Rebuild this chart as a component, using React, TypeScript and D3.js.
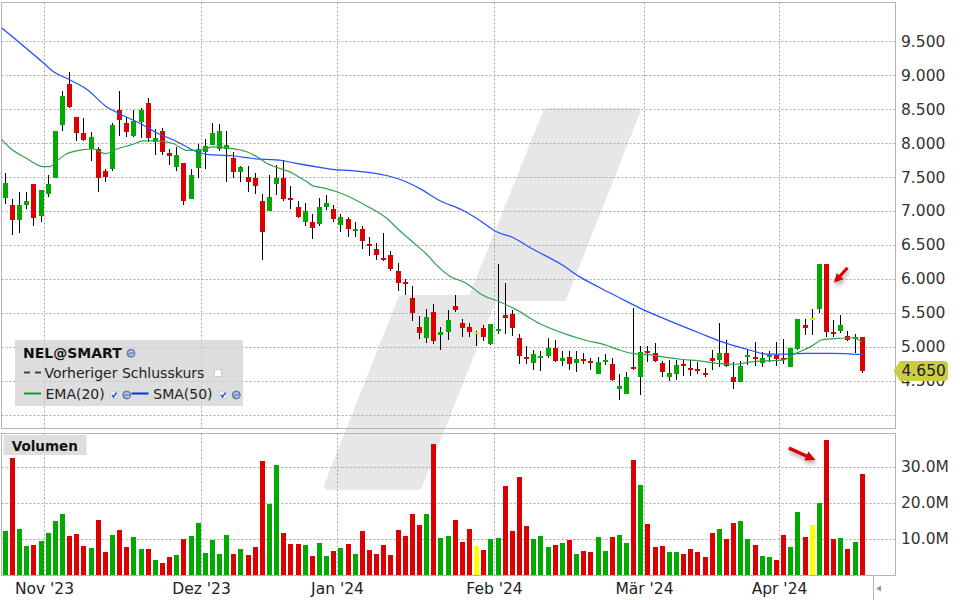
import { useEffect, useRef } from 'react';
import * as d3 from 'd3';

// daily candles, 24 Oct 2023 .. 17 Apr 2024
const opens = [
  7.20, 7.09, 6.87, 7.09, 7.40, 6.93, 7.25, 7.49, 8.27, 8.87, 8.39, 8.15, 7.92, 7.92, 7.60, 7.63, 8.50, 8.31, 8.11, 8.32,
  8.60, 8.02, 8.18, 7.86, 7.65, 7.71, 7.19, 7.64, 7.87, 7.98, 7.92, 7.92, 7.78, 7.58, 7.51, 7.49, 7.15, 7.00, 7.40, 7.49,
  7.20, 7.07, 6.85, 6.85, 6.81, 7.06, 7.03, 6.80, 6.89, 6.71, 6.74, 6.52, 6.44, 6.31, 6.36, 6.12, 5.96, 5.72, 5.30, 5.13,
  5.52, 5.18, 5.22, 5.61, 5.35, 5.30, 5.23, 5.28, 5.05, 5.24, 5.47, 5.49, 5.13, 4.85, 4.77, 4.84, 4.87, 4.99, 4.80, 4.85,
  4.77, 4.82, 4.80, 4.60, 4.78, 4.75, 4.39, 4.31, 4.71, 4.56, 4.94, 4.92, 4.77, 4.56, 4.61, 4.75, 4.70, 4.68, 4.62, 4.84,
  4.81, 4.92, 4.56, 4.49, 4.86, 4.86, 4.77, 4.86, 4.89, 4.84, 4.71, 4.97, 5.33, 5.43, 5.56, 6.23, 5.23, 5.24, 5.17, 5.12,
  5.15,
];
const highs = [
  7.56, 7.19, 7.28, 7.29, 7.40, 7.31, 7.53, 8.18, 8.77, 9.06, 8.39, 8.37, 8.17, 7.95, 7.62, 8.31, 8.77, 8.39, 8.49, 8.52,
  8.67, 8.21, 8.23, 7.92, 7.95, 7.72, 7.63, 8.00, 8.07, 8.30, 8.29, 8.19, 7.87, 7.67, 7.67, 7.56, 7.26, 7.53, 7.68, 7.76,
  7.37, 7.15, 7.12, 6.96, 7.20, 7.24, 7.09, 6.96, 6.92, 6.84, 6.78, 6.62, 6.53, 6.68, 6.42, 6.24, 6.01, 5.90, 5.46, 5.56,
  5.63, 5.30, 5.55, 5.77, 5.41, 5.35, 5.24, 5.33, 5.34, 6.22, 5.94, 5.55, 5.19, 5.02, 4.96, 4.94, 5.13, 5.10, 4.94, 4.94,
  4.94, 4.91, 4.84, 4.85, 4.90, 4.84, 4.60, 4.63, 5.58, 5.02, 5.02, 5.06, 4.80, 4.81, 4.81, 4.83, 4.81, 4.78, 4.69, 4.96,
  5.35, 5.11, 4.78, 4.80, 4.96, 5.08, 4.93, 4.95, 5.08, 5.12, 4.99, 5.41, 5.41, 5.57, 6.23, 6.23, 5.40, 5.47, 5.24, 5.19,
  5.15,
];
const lows = [
  7.11, 6.66, 6.68, 7.03, 6.79, 6.85, 7.21, 7.49, 8.18, 8.52, 8.04, 8.04, 7.74, 7.28, 7.43, 7.60, 8.11, 8.09, 8.09, 8.08,
  8.02, 7.83, 7.83, 7.68, 7.59, 7.10, 7.19, 7.49, 7.62, 7.98, 7.89, 7.44, 7.50, 7.44, 7.29, 7.26, 6.28, 7.00, 7.24, 7.15,
  7.04, 6.90, 6.78, 6.60, 6.78, 7.02, 6.84, 6.70, 6.62, 6.62, 6.44, 6.34, 6.28, 6.27, 6.12, 5.83, 5.77, 5.38, 5.12, 5.06,
  5.05, 4.96, 5.10, 5.52, 5.15, 5.15, 5.02, 5.09, 5.03, 5.19, 5.19, 5.16, 4.75, 4.75, 4.66, 4.65, 4.84, 4.78, 4.72, 4.66,
  4.63, 4.75, 4.66, 4.60, 4.74, 4.50, 4.23, 4.31, 4.66, 4.30, 4.79, 4.78, 4.56, 4.50, 4.52, 4.57, 4.57, 4.60, 4.56, 4.67,
  4.71, 4.71, 4.39, 4.49, 4.74, 4.72, 4.71, 4.78, 4.72, 4.75, 4.71, 4.96, 5.18, 5.18, 5.50, 5.15, 5.15, 5.21, 5.09, 4.91,
  4.62,
];
const closes = [
  7.42, 6.87, 7.09, 7.15, 6.90, 7.31, 7.40, 8.18, 8.70, 8.54, 8.16, 8.05, 8.10, 7.49, 7.51, 8.27, 8.35, 8.17, 8.33, 8.49,
  8.08, 8.08, 7.87, 7.81, 7.83, 7.15, 7.54, 7.92, 7.96, 8.15, 8.19, 7.98, 7.58, 7.65, 7.44, 7.37, 6.69, 7.22, 7.49, 7.18,
  7.17, 6.92, 7.00, 6.76, 7.07, 7.12, 6.89, 6.92, 6.74, 6.74, 6.56, 6.49, 6.36, 6.28, 6.15, 5.94, 5.93, 5.50, 5.21, 5.44,
  5.09, 5.22, 5.40, 5.55, 5.28, 5.22, 5.23, 5.15, 5.34, 5.27, 5.43, 5.28, 4.87, 4.82, 4.90, 4.87, 4.99, 4.80, 4.84, 4.75,
  4.82, 4.80, 4.77, 4.78, 4.81, 4.52, 4.43, 4.56, 4.68, 4.93, 4.92, 4.80, 4.63, 4.62, 4.74, 4.73, 4.67, 4.66, 4.59, 4.80,
  4.92, 4.73, 4.49, 4.73, 4.89, 4.83, 4.84, 4.89, 4.83, 4.82, 4.99, 5.41, 5.29, 5.43, 6.23, 5.23, 5.20, 5.33, 5.10, 5.15,
  4.65,
];
// volume in millions
const volumes = [
  12.3, 32.6, 12.9, 8.1, 8.4, 9.5, 11.8, 15.1, 17.0, 10.9, 11.5, 8.1, 7.6, 15.4, 6.5, 11.2, 12.6, 7.9, 10.6, 7.3,
  7.3, 4.3, 3.4, 5.1, 5.6, 10.1, 10.9, 14.5, 6.2, 9.8, 5.9, 11.2, 5.9, 7.3, 5.6, 7.9, 31.8, 19.8, 30.6, 11.8,
  8.7, 8.7, 8.4, 5.4, 9.0, 5.4, 6.8, 7.6, 8.7, 5.9, 12.3, 7.0, 5.9, 8.4, 5.6, 12.6, 10.9, 17.0, 14.0, 17.0,
  36.5, 10.4, 10.9, 15.4, 9.3, 12.9, 8.1, 7.0, 10.1, 10.4, 24.8, 12.3, 27.3, 13.7, 10.1, 10.9, 7.9, 8.4, 9.0, 9.8,
  5.9, 6.8, 6.5, 10.6, 6.8, 10.6, 11.2, 9.0, 32.0, 25.1, 14.3, 7.9, 8.1, 6.5, 6.5, 5.9, 7.3, 6.5, 5.1, 11.8,
  12.9, 10.1, 14.5, 15.1, 10.1, 8.4, 5.4, 5.1, 4.3, 11.2, 7.9, 17.6, 10.6, 14.0, 20.1, 37.6, 10.1, 10.4, 7.3, 9.3,
  28.1,
];

// indicator lines: [bar index, value]
const emaPoints: [number, number][] = [
  [-0.7, 8.08], [0.7, 7.93], [3, 7.78], [5.3, 7.66], [6.2, 7.66], [7.4, 7.76], [8.6, 7.85], [10.9, 7.91], [12.3, 7.92],
  [14, 7.85], [15.6, 7.92], [17.9, 7.99], [19.3, 8.04], [21.2, 8.04], [23.5, 8.0], [25.4, 7.9], [27.2, 7.9], [29, 7.95],
  [31.4, 7.93], [33.8, 7.88], [35.2, 7.81], [36.6, 7.71], [38, 7.65], [40.3, 7.56], [41.2, 7.5], [42.2, 7.44], [43, 7.38],
  [44.8, 7.34], [47.2, 7.26], [50.6, 7.08], [53.4, 6.9], [55.2, 6.72], [57.6, 6.5], [59, 6.37], [60.4, 6.21], [62.2, 6.05],
  [64.6, 5.94], [66.8, 5.77], [69.2, 5.67], [71.6, 5.55], [74.8, 5.35], [78.6, 5.19], [81.4, 5.1], [84.2, 5.03], [86, 4.96],
  [87.8, 4.91], [90.2, 4.89], [92.5, 4.85], [94.8, 4.82], [97.2, 4.8], [100, 4.76], [102.3, 4.75], [104.2, 4.78],
  [106.5, 4.8], [108.8, 4.81], [110.7, 4.91], [113, 5.02], [114.4, 5.11], [116.7, 5.13], [118.6, 5.14], [120, 5.08],
];
const smaPoints: [number, number][] = [
  [-0.7, 9.72], [5.3, 9.19], [6.7, 9.06], [9, 8.94], [11.4, 8.8], [14.2, 8.54], [16, 8.44], [18.8, 8.3], [21.2, 8.16],
  [24, 8.03], [26.8, 7.88], [28.2, 7.84], [31.8, 7.82], [34.6, 7.78], [38.8, 7.75], [40.2, 7.72], [44, 7.65], [45.8, 7.62],
  [48.6, 7.6], [53.4, 7.53], [55.6, 7.46], [58, 7.34], [60.8, 7.16], [64, 7.02], [66.4, 6.87], [68.8, 6.7], [71, 6.62],
  [73.8, 6.45], [78, 6.21], [80.4, 6.04], [83.2, 5.88], [86, 5.73], [88.8, 5.58], [92.5, 5.41], [97.2, 5.21], [100.9, 5.06],
  [104.2, 4.96], [106.5, 4.9], [109.7, 4.9], [112.1, 4.91], [115.8, 4.91], [120, 4.89],
];

const monthLabels = ["Nov '23", "Dez '23", "Jan '24", "Feb '24", "Mär '24", "Apr '24"];
const monthStarts = [6, 28, 47, 69, 90, 109];
const priceTicks = [9.5, 9, 8.5, 8, 7.5, 7, 6.5, 6, 5.5, 5, 4.5];
const priceGrid = [...priceTicks, 4];
const volumeTicks = [10, 20, 30];
const resistance = { from: 96.3, value: 5.45 };
const lastPrice = 4.65;

const FONT = "'DejaVu Sans', Verdana, sans-serif";
const RED = '#dd0000';
const GREEN = '#00aa00';

const fmtPrice = (v: number) => d3.format('.3f')(v).replace('.', ',').replace(',', '.');

function arrowPoints(x1: number, y1: number, x2: number, y2: number, shaft: number, headW: number, headL: number) {
  const len = Math.hypot(x2 - x1, y2 - y1);
  const ux = (x2 - x1) / len, uy = (y2 - y1) / len;
  const px = -uy, py = ux;
  const bx = x2 - ux * headL, by = y2 - uy * headL;
  const pts = [
    [x1 + px * shaft / 2, y1 + py * shaft / 2],
    [bx + px * shaft / 2, by + py * shaft / 2],
    [bx + px * headW / 2, by + py * headW / 2],
    [x2, y2],
    [bx - px * headW / 2, by - py * headW / 2],
    [bx - px * shaft / 2, by - py * shaft / 2],
    [x1 - px * shaft / 2, y1 - py * shaft / 2],
  ];
  return pts.map(p => p.join(',')).join(' ');
}

const App = () => {
  const svgRef = useRef<SVGSVGElement>(null);

  useEffect(() => {
    if (!svgRef.current) return;
    const svg = d3.select(svgRef.current);
    svg.selectAll('*').remove();

    const n = closes.length;
    const left = 1.5, right = 895.5, top = 2.5, mainBottom = 428.5, volTop = 433.5, volBottom = 575.5;

    const x = d3.scaleLinear().domain([0, n - 1]).range([5.36, 862.2]);
    const y = d3.scaleLinear().domain([4.5, 9.5]).range([381.2, 41.7]);
    const yv = d3.scaleLinear().domain([0, 30]).range([575.3, 467.3]);
    const crisp = (v: number) => Math.floor(v) + 0.5;
    const monthX = (i: number) => crisp(x(i) - 3.9);

    const defs = svg.append('defs');
    defs.append('clipPath').attr('id', 'clipMain').append('rect')
      .attr('x', left + 0.5).attr('y', top + 0.5).attr('width', right - left - 1).attr('height', mainBottom - top - 1);
    defs.append('clipPath').attr('id', 'clipVol').append('rect')
      .attr('x', left + 0.5).attr('y', volTop + 0.5).attr('width', right - left - 1).attr('height', volBottom - volTop - 1);
    defs.append('filter').attr('id', 'shadow').attr('x', '-30%').attr('y', '-100%').attr('width', '160%').attr('height', '400%')
      .append('feDropShadow').attr('dx', 1).attr('dy', 3).attr('stdDeviation', 2)
      .attr('flood-color', '#000').attr('flood-opacity', 0.35);

    svg.append('rect').attr('width', 960).attr('height', 600).attr('fill', '#fff');

    // watermark
    svg.append('polygon')
      .attr('points', '547,112 636,112 563,297 493,297 418,486 328,486 402,299 472,299')
      .attr('fill', '#e7e7e7').attr('stroke', '#e7e7e7').attr('stroke-width', 8).attr('stroke-linejoin', 'round');

    // grid
    const grid = svg.append('g').attr('stroke', '#a8a8a8').attr('stroke-dasharray', '2,2').attr('stroke-width', 1);
    grid.selectAll('line.h').data(priceGrid).join('line').attr('class', 'h')
      .attr('x1', left).attr('x2', right).attr('y1', d => crisp(y(d))).attr('y2', d => crisp(y(d)));
    grid.selectAll('line.hv').data(volumeTicks).join('line').attr('class', 'hv')
      .attr('x1', left).attr('x2', right).attr('y1', d => crisp(yv(d))).attr('y2', d => crisp(yv(d)));
    grid.selectAll('line.vm').data(monthStarts).join('line').attr('class', 'vm')
      .attr('x1', d => monthX(d)).attr('x2', d => monthX(d)).attr('y1', top).attr('y2', mainBottom);
    grid.selectAll('line.vv').data(monthStarts).join('line').attr('class', 'vv')
      .attr('x1', d => monthX(d)).attr('x2', d => monthX(d)).attr('y1', volTop).attr('y2', volBottom);

    const colorOf = (i: number) => closes[i] > opens[i] ? GREEN : closes[i] < opens[i] ? RED : '#e6e600';
    const idx = d3.range(n);

    // volume bars
    svg.append('g').attr('clip-path', 'url(#clipVol)').attr('shape-rendering', 'crispEdges')
      .selectAll('rect').data(idx).join('rect')
      .attr('x', i => Math.round(x(i) - 2.5)).attr('width', 5)
      .attr('y', i => yv(volumes[i])).attr('height', i => yv(0) - yv(volumes[i]))
      .attr('fill', i => closes[i] === opens[i] ? '#ffff00' : colorOf(i));

    // candles
    const main = svg.append('g').attr('clip-path', 'url(#clipMain)');
    const candles = main.append('g').attr('shape-rendering', 'crispEdges');
    candles.selectAll('line').data(idx).join('line')
      .attr('x1', i => Math.round(x(i) - 2.5) + 2.5).attr('x2', i => Math.round(x(i) - 2.5) + 2.5)
      .attr('y1', i => y(highs[i])).attr('y2', i => y(lows[i]))
      .attr('stroke', '#000').attr('stroke-width', 1);
    candles.selectAll('rect').data(idx).join('rect')
      .attr('x', i => Math.round(x(i) - 2.5)).attr('width', 5)
      .attr('y', i => y(Math.max(opens[i], closes[i])))
      .attr('height', i => Math.max(2, Math.abs(y(opens[i]) - y(closes[i]))))
      .attr('fill', colorOf);

    // moving averages
    const line = d3.line<[number, number]>().x(d => x(d[0])).y(d => y(d[1])).curve(d3.curveMonotoneX);
    main.append('path').attr('d', line(smaPoints)).attr('fill', 'none').attr('stroke', '#2450ff').attr('stroke-width', 1.2);
    main.append('path').attr('d', line(emaPoints)).attr('fill', 'none').attr('stroke', '#2fa24e').attr('stroke-width', 1.2);

    // drawn resistance line
    main.append('line')
      .attr('x1', x(resistance.from)).attr('x2', right - 2)
      .attr('y1', y(resistance.value)).attr('y2', y(resistance.value))
      .attr('stroke', '#00a400').attr('stroke-width', 4.5).attr('filter', 'url(#shadow)');

    // annotation arrows
    svg.append('polygon')
      .attr('points', arrowPoints(x(115) + 21, y(6.17), x(115) + 7.5, y(5.95), 3, 9, 9))
      .attr('fill', '#d80000').attr('filter', 'url(#shadow)');
    svg.append('polygon')
      .attr('points', arrowPoints(x(115) - 37.6, yv(35.3), x(115) - 11, yv(32.0), 3.5, 10, 10))
      .attr('fill', '#d80000').attr('filter', 'url(#shadow)');

    // panel frames
    const frame = svg.append('g').attr('fill', 'none').attr('stroke', '#b4b4b4').attr('stroke-width', 1);
    frame.append('rect').attr('x', left).attr('y', top).attr('width', right - left).attr('height', mainBottom - top);
    frame.append('rect').attr('x', left).attr('y', volTop).attr('width', right - left).attr('height', volBottom - volTop);
    frame.append('line').attr('x1', 873.5).attr('x2', 873.5).attr('y1', volBottom).attr('y2', 600);
    svg.append('polygon').attr('points', '876,588.5 881,585.5 881,591.5').attr('fill', '#9a9a9a');

    // axes labels
    svg.append('g').selectAll('text').data(priceTicks).join('text')
      .attr('x', 901).attr('y', d => y(d)).attr('dominant-baseline', 'central')
      .attr('font-family', FONT).attr('font-size', 15.5).attr('fill', '#333')
      .text(d => fmtPrice(d));
    svg.append('g').selectAll('text').data(volumeTicks).join('text')
      .attr('x', 901).attr('y', d => yv(d)).attr('dominant-baseline', 'central')
      .attr('font-family', FONT).attr('font-size', 15.5).attr('fill', '#333')
      .text(d => `${d.toFixed(1)}M`);
    svg.append('g').selectAll('text').data(monthStarts).join('text')
      .attr('x', d => monthX(d)).attr('y', 593.5).attr('text-anchor', 'middle')
      .attr('font-family', FONT).attr('font-size', 15.5).attr('fill', '#222')
      .text((d, k) => monthLabels[k]);

    // last price tag
    const ly = y(lastPrice);
    svg.append('path')
      .attr('d', `M893.5,${ly} L900,${ly - 10} L944,${ly - 10} Q948,${ly - 10} 948,${ly - 6} L948,${ly + 6} Q948,${ly + 10} 944,${ly + 10} L900,${ly + 10} Z`)
      .attr('fill', '#cccc44');
    svg.append('text').attr('x', 901.5).attr('y', ly).attr('dominant-baseline', 'central')
      .attr('font-family', FONT).attr('font-size', 15.5).attr('fill', '#222')
      .text(fmtPrice(lastPrice));

    // legend
    const lg = svg.append('g').attr('font-family', FONT);
    lg.append('rect').attr('x', 15).attr('y', 340).attr('width', 228).attr('height', 66)
      .attr('fill', '#d2d2d2').attr('opacity', 0.75);
    lg.append('text').attr('x', 23).attr('y', 358.3).attr('font-size', 14).attr('font-weight', 'bold')
      .attr('fill', '#111').text('NEL@SMART');
    lg.append('line').attr('x1', 24).attr('x2', 41).attr('y1', 372.5).attr('y2', 372.5)
      .attr('stroke', '#444').attr('stroke-width', 2).attr('stroke-dasharray', '6,5');
    lg.append('text').attr('x', 44.5).attr('y', 377.8).attr('font-size', 14).attr('fill', '#222')
      .text('Vorheriger Schlusskurs');
    lg.append('rect').attr('x', 214.5).attr('y', 369.5).attr('width', 7).attr('height', 7)
      .attr('fill', '#fff').attr('stroke', '#c8c8c8');
    lg.append('line').attr('x1', 24).attr('x2', 41).attr('y1', 393.5).attr('y2', 393.5)
      .attr('stroke', '#119933').attr('stroke-width', 2);
    lg.append('text').attr('x', 45.5).attr('y', 399).attr('font-size', 14).attr('fill', '#222').text('EMA(20)');
    lg.append('line').attr('x1', 131.5).attr('x2', 148.5).attr('y1', 393.5).attr('y2', 393.5)
      .attr('stroke', '#0033ee').attr('stroke-width', 2);
    lg.append('text').attr('x', 153.3).attr('y', 399).attr('font-size', 14).attr('fill', '#222').text('SMA(50)');

    const checkAt = (cx: number) => {
      lg.append('rect').attr('x', cx).attr('y', 391.5).attr('width', 7).attr('height', 7)
        .attr('fill', '#eef2fa').attr('stroke', '#c9cfdc');
      lg.append('path').attr('d', `M${cx + 1.5},395 L${cx + 3},397 L${cx + 6},392.5`)
        .attr('fill', 'none').attr('stroke', '#2255cc').attr('stroke-width', 1.4);
    };
    checkAt(110.5);
    checkAt(219.5);
    const globeAt = (cx: number, cy: number) => {
      lg.append('circle').attr('cx', cx).attr('cy', cy).attr('r', 4)
        .attr('fill', '#7f9cc4').attr('stroke', '#506a90').attr('stroke-width', 0.8);
      lg.append('path').attr('d', `M${cx - 2.5},${cy - 1} Q${cx},${cy - 3} ${cx + 2},${cy - 1.5} M${cx - 1},${cy + 2} Q${cx + 1},${cy + 1} ${cx + 3},${cy + 2}`)
        .attr('fill', 'none').attr('stroke', '#dfe8f4').attr('stroke-width', 0.9);
    };
    globeAt(131, 353.3);
    globeAt(126.7, 395);
    globeAt(236.3, 395);

    // volume panel title
    svg.append('rect').attr('x', 3.5).attr('y', 435).attr('width', 83).attr('height', 20).attr('fill', '#dedede');
    svg.append('text').attr('x', 11.7).attr('y', 451).attr('font-family', FONT).attr('font-size', 13.5)
      .attr('font-weight', 'bold').attr('fill', '#111').text('Volumen');
  }, []);

  return (
    <svg ref={svgRef} width={960} height={600} style={{ position: 'absolute', left: 0, top: 0 }} />
  );
};

export default App;
